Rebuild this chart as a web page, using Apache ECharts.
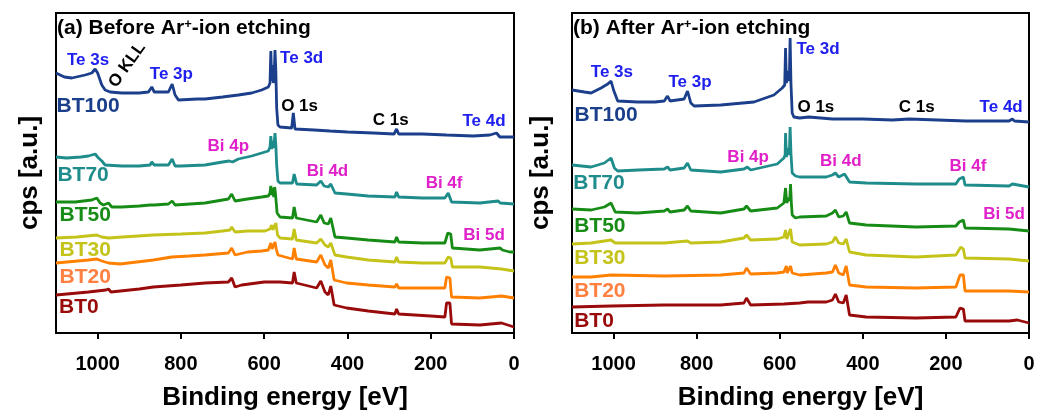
<!DOCTYPE html>
<html>
<head>
<meta charset="utf-8">
<script src="https://cdn.jsdelivr.net/npm/echarts@6/dist/echarts.min.js"></script>
<style>
  html, body { margin: 0; padding: 0; background: #fff; }
  #chart { width: 1049px; height: 414px; }
</style>
</head>
<body>
<div id="chart"></div>
<script>
// XPS survey spectra, binding energy [eV] vs counts (arbitrary, stacked)
const energyTicks = [0, 200, 400, 600, 800, 1000];
const samples = ['BT100', 'BT70', 'BT50', 'BT30', 'BT20', 'BT0'];

// (a) before Ar+ etching
const beforeBT100 = [[1100,260],[1080,256],[1062,255],[1030,258],[1014,260],[1006,264],[1000,260],[990,248],[982,243],[970,241],[942,240],[900,240],[878,241],[870,246],[864,241],[830,241],[821,249],[814,238],[806,233],[760,234],[742,234],[700,236],[662,238],[630,240],[606,243],[590,246],[586,250],[584,282],[582,252],[580,268],[578,250],[576,256],[574,283],[572,262],[570,225],[567,208],[562,206],[534,205],[530,220],[526,204],[480,203],[442,202],[400,201],[338,200],[288,199],[282,204],[277,199],[220,199],[162,198],[98,197],[58,198],[42,200],[34,196],[0,196]];
const beforeBT70 = [[1100,176],[1075,175],[1040,176],[1022,177],[1006,179],[998,175],[990,172],[982,168],[942,167],[900,167],[874,168],[870,171],[864,168],[830,168],[821,174],[814,167],[800,167],[742,168],[700,171],[684,172],[680,174],[676,171],[662,174],[630,177],[606,180],[590,182],[586,186],[584,197],[582,184],[580,192],[578,185],[576,190],[574,200],[572,188],[570,168],[567,152],[562,150],[532,150],[528,159],[522,149],[474,148],[464,152],[456,147],[446,146],[440,149],[430,140],[402,139],[350,137],[286,136],[282,141],[277,136],[220,135],[166,135],[158,140],[154,139],[150,131],[82,130],[38,132],[33,130],[0,129]];
const beforeBT50 = [[1100,131],[1054,131],[1014,133],[1002,135],[994,130],[986,128],[974,130],[966,126],[942,126],[900,127],[874,128],[870,130],[864,128],[830,129],[821,132],[814,128],[742,130],[700,133],[686,134],[678,139],[670,132],[640,134],[606,136],[590,137],[586,140],[584,147],[582,138],[580,145],[577,136],[575,146],[573,140],[571,130],[569,120],[562,116],[532,115],[528,126],[523,115],[474,111],[464,118],[456,110],[446,109],[440,115],[430,96],[402,95],[350,93],[286,91],[282,96],[277,91],[220,90],[166,90],[159,100],[152,99],[148,85],[82,83],[33,85],[28,83],[10,81],[0,81]];
const beforeBT30 = [[1100,95],[1050,96],[1002,98],[990,96],[974,95],[940,96],[866,98],[800,99],[742,100],[700,102],[682,103],[678,106],[670,101],[640,102],[598,102],[586,104],[582,108],[579,103],[576,104],[572,110],[568,98],[562,95],[532,94],[528,104],[523,93],[474,90],[464,94],[454,88],[446,86],[440,90],[430,78],[402,76],[350,73],[286,71],[282,76],[277,71],[220,70],[166,70],[158,76],[152,75],[148,66],[82,66],[30,64],[0,62]];
const beforeBT20 = [[1100,70],[1022,73],[1002,74],[990,72],[974,70],[946,69],[866,73],[822,76],[780,77],[742,78],[686,80],[678,85],[670,78],[640,81],[606,82],[590,83],[584,90],[581,84],[578,86],[574,91],[571,84],[567,78],[550,76],[532,74],[528,85],[523,74],[474,71],[464,78],[454,68],[446,65],[440,73],[432,53],[402,50],[350,48],[286,46],[282,49],[277,45],[166,45],[162,56],[154,55],[150,36],[82,35],[30,37],[26,35],[0,35]];
const beforeBT0 = [[1100,38],[1022,41],[980,43],[974,44],[968,41],[900,44],[866,46],[800,48],[742,50],[686,51],[678,55],[670,46],[654,48],[600,51],[562,51],[532,50],[528,61],[523,50],[474,45],[464,52],[454,41],[446,38],[440,47],[432,28],[402,25],[350,22],[286,19],[282,24],[277,19],[200,17],[166,16],[162,30],[154,30],[150,9],[82,8],[30,10],[26,8],[0,6]];

// (b) after Ar+ etching
const afterBT100 = [[1100,243],[1070,241],[1054,240],[1030,245],[1014,249],[1006,252],[1000,243],[990,232],[942,231],[900,231],[878,232],[870,237],[864,232],[830,234],[822,242],[814,230],[806,227],[742,228],[662,231],[614,238],[594,245],[588,248],[586,285],[584,250],[580,262],[577,252],[575,295],[573,250],[570,220],[566,216],[552,215],[530,216],[473,214],[400,214],[329,213],[288,214],[284,213],[152,212],[48,212],[40,214],[35,212],[0,211]];
const afterBT70 = [[1100,168],[1054,166],[1022,170],[1006,175],[998,165],[990,162],[940,163],[878,164],[870,166],[864,163],[830,165],[822,170],[814,163],[742,161],[686,164],[678,166],[670,163],[606,169],[590,175],[587,178],[586,200],[584,176],[580,185],[577,178],[575,206],[573,180],[570,160],[562,157],[552,156],[488,156],[473,158],[466,160],[458,156],[444,159],[440,159],[432,151],[392,150],[272,149],[176,149],[168,154],[158,156],[154,148],[48,147],[40,149],[36,147],[0,146]];
const afterBT50 = [[1100,124],[1054,123],[1022,126],[1006,130],[996,121],[942,120],[878,122],[870,124],[864,121],[830,123],[822,127],[814,122],[742,120],[686,124],[680,127],[670,122],[606,125],[590,130],[586,145],[583,130],[579,135],[576,132],[574,149],[572,130],[570,118],[562,115],[552,116],[488,117],[473,120],[466,123],[458,116],[447,117],[440,121],[432,110],[392,108],[272,106],[176,107],[168,111],[158,113],[154,105],[48,104],[0,102]];
const afterBT30 = [[1100,89],[1054,90],[1006,93],[996,90],[878,90],[822,92],[814,90],[742,91],[686,95],[680,98],[670,93],[606,94],[590,96],[586,103],[583,94],[574,104],[570,91],[552,88],[488,89],[473,91],[466,96],[458,90],[447,89],[440,94],[432,81],[392,78],[272,76],[176,78],[164,86],[158,84],[154,75],[48,74],[0,72]];
const afterBT20 = [[1100,56],[1054,56],[1006,58],[878,57],[742,58],[686,60],[680,65],[670,59],[606,60],[590,61],[584,67],[582,60],[574,67],[570,60],[552,58],[488,60],[473,61],[466,68],[458,60],[447,58],[440,67],[432,48],[392,46],[272,45],[176,46],[166,58],[158,58],[154,42],[48,42],[0,41]];
const afterBT0 = [[1100,26],[1006,27],[878,28],[742,28],[686,30],[680,35],[670,28],[590,29],[552,30],[532,31],[528,29],[488,31],[473,33],[466,39],[458,31],[447,30],[440,38],[432,18],[392,16],[272,15],[176,16],[166,25],[158,24],[154,12],[48,12],[28,13],[0,10]];

const beforeSpectra = [beforeBT100, beforeBT70, beforeBT50, beforeBT30, beforeBT20, beforeBT0];
const afterSpectra = [afterBT100, afterBT70, afterBT50, afterBT30, afterBT20, afterBT0];

// peak / sample annotations: [text, energy, counts, kind]
const beforeNotes = [
  ['Te 3s', 1023, 273, 'te'], ['O KLL', 929, 268, 'o'], ['Te 3p', 823, 259, 'te'],
  ['Te 3d', 510, 275, 'te'], ['O 1s', 515, 227, 'o'], ['C 1s', 296, 213, 'o'],
  ['Te 4d', 72, 212, 'te'], ['Bi 4p', 686, 187, 'bi'], ['Bi 4d', 448, 162, 'bi'],
  ['Bi 4f', 168, 150, 'bi'], ['Bi 5d', 72, 98, 'bi'],
  ['BT100', 1023, 227, 0], ['BT70', 1035, 158, 1], ['BT50', 1030, 118, 2],
  ['BT30', 1030, 83, 3], ['BT20', 1030, 56, 4], ['BT0', 1045, 26, 5]
];
const afterNotes = [
  ['Te 3d', 508, 284, 'te'], ['Te 3s', 1004, 261, 'te'], ['Te 3p', 816, 251, 'te'],
  ['O 1s', 513, 226, 'o'], ['C 1s', 270, 226, 'o'], ['Te 4d', 67, 226, 'te'],
  ['Bi 4p', 676, 176, 'bi'], ['Bi 4d', 453, 172, 'bi'], ['Bi 4f', 147, 167, 'bi'],
  ['Bi 5d', 60, 119, 'bi'],
  ['BT100', 1018, 218, 0], ['BT70', 1035, 150, 1], ['BT50', 1033, 107, 2],
  ['BT30', 1033, 75, 3], ['BT20', 1033, 42, 4], ['BT0', 1047, 12, 5]
];

const lineColors = ['#1b3f8b', '#1f8c8c', '#168c16', '#c3c31a', '#ff8000', '#990a0a'];
const labelColors = ['#1b3f8b', '#1f8c8c', '#168c16', '#c3c31a', '#ff8040', '#990a0a'];
const noteColors = { te: '#2020ee', bi: '#e020c8', o: '#000' };
const FONT = '"Liberation Sans", Arial, sans-serif';

const chart = echarts.init(document.getElementById('chart'), null, { renderer: 'canvas' });

const makeX = (gridIndex) => ({
  type: 'value', gridIndex, inverse: true, min: 0, max: 1100,
  name: 'Binding energy [eV]', nameLocation: 'middle', nameGap: 52,
  nameTextStyle: { fontSize: 26, fontWeight: 'bold', color: '#000', fontFamily: FONT },
  axisLine: { show: true, lineStyle: { color: '#000', width: 2 } },
  axisTick: { show: true, inside: false, length: 6, lineStyle: { color: '#000', width: 2 }, customValues: energyTicks },
  axisLabel: {
    fontSize: 20, fontWeight: 'bold', color: '#000', margin: 21, fontFamily: FONT,
    customValues: energyTicks, formatter: (v) => String(v)
  },
  splitLine: { show: false }
});

const makeY = (gridIndex, gap) => ({
  type: 'value', gridIndex, min: 0, max: 320,
  name: 'cps [a.u.]', nameLocation: 'middle', nameGap: gap, nameRotate: 90,
  nameTextStyle: { fontSize: 26, fontWeight: 'bold', color: '#000', fontFamily: FONT },
  axisLine: { show: false }, axisTick: { show: false }, axisLabel: { show: false },
  splitLine: { show: false }
});

const makeSeries = (list, g) => list.map((d, i) => ({
  name: samples[i], type: 'line', xAxisIndex: g, yAxisIndex: g, data: d,
  symbol: 'none', showSymbol: false, animation: false,
  lineStyle: { color: lineColors[i], width: 2.8 }
}));

const gridBase = { top: 13, height: 320, show: true, borderColor: '#000', borderWidth: 2, outerBoundsMode: 'none', containLabel: false };

chart.setOption({
  backgroundColor: '#fff',
  animation: false,
  grid: [
    Object.assign({ left: 56, width: 458 }, gridBase),
    Object.assign({ left: 572, width: 457 }, gridBase)
  ],
  xAxis: [makeX(0), makeX(1)],
  yAxis: [makeY(0, 13), makeY(1, 18)],
  series: makeSeries(beforeSpectra, 0).concat(makeSeries(afterSpectra, 1))
});

const graphics = [];
const addNotes = (notes, g) => {
  notes.forEach(([text, e, c, kind]) => {
    const p = chart.convertToPixel({ gridIndex: g }, [e, c]);
    const isSample = typeof kind === 'number';
    graphics.push({
      type: 'text', x: p[0], y: p[1],
      rotation: text === 'O KLL' ? 0.95 : 0,
      style: {
        text, fill: isSample ? labelColors[kind] : noteColors[kind],
        font: 'bold ' + (isSample ? 21 : 17) + 'px ' + FONT,
        align: 'center', verticalAlign: 'middle'
      }
    });
  });
};
addNotes(beforeNotes, 0);
addNotes(afterNotes, 1);

const panelTitle = (label, x) => ({
  type: 'text', x, y: 18,
  style: {
    text: '{m|' + label + ' Ar}{s|+}{m|-ion etching}',
    fill: '#000',
    rich: {
      m: { font: 'bold 21px ' + FONT, fill: '#000' },
      s: { font: 'bold 13px ' + FONT, fill: '#000', verticalAlign: 'top' }
    }
  }
});
graphics.push(panelTitle('(a) Before', 57), panelTitle('(b) After', 573));

chart.setOption({ graphic: graphics });
window.addEventListener('resize', () => chart.resize());
</script>
</body>
</html>
